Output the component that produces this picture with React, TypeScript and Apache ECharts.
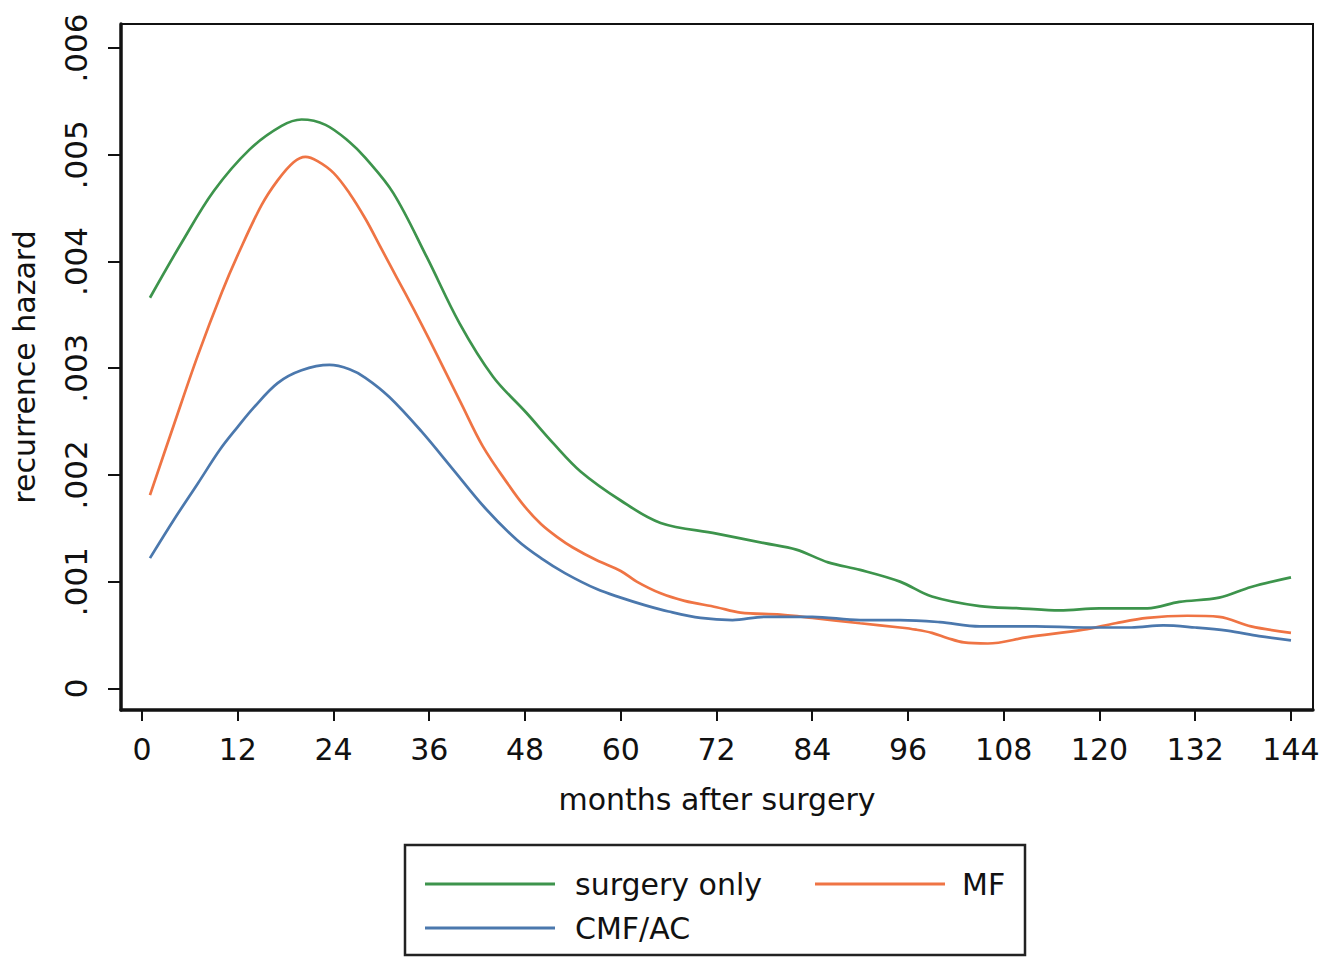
import React, { useEffect, useRef } from "react";
import * as echarts from "echarts";

// months after surgery and recurrence hazard
const surgeryOnlyMonths = [1, 5, 9, 13.5, 17.5, 20, 23, 26, 28, 31.5, 35.7, 39.8, 44, 48.2, 51.5, 55, 60, 65, 72, 78, 82, 86, 90, 95, 99, 105, 110, 115, 120, 126, 130, 135, 139, 144];
const surgeryOnlyHazard = [0.00366, 0.00418, 0.00466, 0.00505, 0.00527, 0.00533, 0.00528, 0.00512, 0.00497, 0.00464, 0.00404, 0.00342, 0.00292, 0.00258, 0.0023, 0.00203, 0.00176, 0.00155, 0.00145, 0.00136, 0.0013, 0.00118, 0.00111, 0.001, 0.00086, 0.00077, 0.00075, 0.00073, 0.00075, 0.00075, 0.00081, 0.00085, 0.00095, 0.00104];

const mfMonths = [1, 4, 7, 10, 12.3, 15, 17, 19, 20.5, 22, 24, 26, 28, 30, 32, 34, 36, 38, 40, 42.7, 46, 48, 50, 52, 54, 57, 60, 62, 65, 68, 72, 75, 80, 84, 90, 95, 97, 99, 101, 103, 106, 111, 118, 122, 126, 131, 135, 139, 144];
const mfHazard = [0.00181, 0.00247, 0.00312, 0.00371, 0.00411, 0.00453, 0.00476, 0.00493, 0.00498, 0.00494, 0.00483, 0.00464, 0.0044, 0.00412, 0.00384, 0.00356, 0.00327, 0.00297, 0.00267, 0.00227, 0.0019, 0.0017, 0.00154, 0.00142, 0.00132, 0.0012, 0.0011, 0.001, 0.00089, 0.00082, 0.00076, 0.00071, 0.00069, 0.00066, 0.00061, 0.00057, 0.00055, 0.00052, 0.00047, 0.00043, 0.00042, 0.00048, 0.00055, 0.00061, 0.00066, 0.00068, 0.00067, 0.00058, 0.00052];

const cmfMonths = [1, 4, 7, 9.8, 12, 14, 17, 20, 23.5, 26, 28, 31, 35, 39, 43, 47, 50, 53, 57, 60, 63, 66, 70, 74, 78, 84, 90, 95, 100, 105, 112, 118, 124, 128, 132, 136, 140, 144];
const cmfHazard = [0.00122, 0.00158, 0.00192, 0.00224, 0.00245, 0.00263, 0.00286, 0.00298, 0.00303, 0.00299, 0.00291, 0.00273, 0.00241, 0.00205, 0.00169, 0.00139, 0.00122, 0.00108, 0.00093, 0.00085, 0.00078, 0.00072, 0.00066, 0.00064, 0.00067, 0.00067, 0.00064, 0.00064, 0.00062, 0.00058, 0.00058, 0.00057, 0.00057, 0.00059, 0.00057, 0.00054, 0.00049, 0.00045];

const xTicks = [0, 12, 24, 36, 48, 60, 72, 84, 96, 108, 120, 132, 144];
const yTicks = [0, 0.001, 0.002, 0.003, 0.004, 0.005, 0.006];
const yTickLabels = ["0", ".001", ".002", ".003", ".004", ".005", ".006"];

const seriesNames = ["surgery only", "MF", "CMF/AC"];
const seriesColors = ["#3d944c", "#ef7444", "#4b78ad"];

const FONT = "DejaVu Sans";

function pairs(xs: number[], ys: number[]) {
  return xs.map((x, i) => [x, ys[i]]);
}

export default function App() {
  const ref = useRef<HTMLDivElement>(null);
  useEffect(() => {
    document.body.style.margin = "0";
    const chart = echarts.init(ref.current!, null, { renderer: "svg" });
    const data = [
      pairs(surgeryOnlyMonths, surgeryOnlyHazard),
      pairs(mfMonths, mfHazard),
      pairs(cmfMonths, cmfHazard),
    ];
    chart.setOption({
      animation: false,
      backgroundColor: "#ffffff",
      grid: {
        left: 121,
        top: 24,
        width: 1192,
        height: 686,
        show: true,
        borderColor: "#111",
        borderWidth: 2,
        containLabel: false,
      },
      xAxis: {
        type: "value",
        min: -2.63,
        max: 146.76,
        splitLine: { show: false },
        axisLine: { show: true, onZero: false, lineStyle: { color: "#111", width: 3.5 } },
        axisTick: { show: true, customValues: xTicks, length: 11, lineStyle: { color: "#111", width: 2 } },
        axisLabel: {
          customValues: xTicks,
          margin: 24,
          color: "#111",
          fontFamily: FONT,
          fontSize: 30,
        },
        name: "months after surgery",
        nameLocation: "middle",
        nameGap: 74,
        nameTextStyle: { color: "#111", fontFamily: FONT, fontSize: 30 },
      },
      yAxis: {
        type: "value",
        min: -0.000203,
        max: 0.006225,
        splitLine: { show: false },
        axisLine: { show: true, onZero: false, lineStyle: { color: "#111", width: 3.5 } },
        axisTick: { show: true, customValues: yTicks, length: 13, lineStyle: { color: "#111", width: 2 } },
        axisLabel: {
          customValues: yTicks,
          rotate: 90,
          margin: 30,
          color: "#111",
          fontFamily: FONT,
          fontSize: 31,
          formatter: (v: number) => {
            let best = 0;
            for (let i = 0; i < yTicks.length; i++) {
              if (Math.abs(yTicks[i] - v) < Math.abs(yTicks[best] - v)) best = i;
            }
            return yTickLabels[best];
          },
        },
        name: "recurrence hazard",
        nameLocation: "middle",
        nameGap: 82,
        nameTextStyle: { color: "#111", fontFamily: FONT, fontSize: 30 },
      },
      legend: [
        {
          data: [seriesNames[0], seriesNames[2]],
          orient: "vertical",
          left: 420,
          top: 864,
          itemWidth: 130,
          itemHeight: 3,
          itemGap: 14,
          icon: "rect",
          textStyle: { color: "#111", fontFamily: FONT, fontSize: 30, padding: [0, 0, 0, 15] },
        },
        {
          data: [seriesNames[1]],
          orient: "vertical",
          left: 810,
          top: 864,
          itemWidth: 130,
          itemHeight: 3,
          icon: "rect",
          textStyle: { color: "#111", fontFamily: FONT, fontSize: 30, padding: [0, 0, 0, 12] },
        },
      ],
      graphic: [
        {
          type: "rect",
          shape: { x: 405, y: 845, width: 620, height: 110 },
          style: { fill: "none", stroke: "#222", lineWidth: 2.5 },
          silent: true,
        },
      ],
      series: data.map((d, i) => ({
        name: seriesNames[i],
        type: "line",
        data: d,
        smooth: 0.35,
        showSymbol: false,
        symbol: "none",
        color: seriesColors[i],
        lineStyle: { color: seriesColors[i], width: 2.7 },
        itemStyle: { color: seriesColors[i] },
      })),
    });
    return () => chart.dispose();
  }, []);
  return <div ref={ref} style={{ position: "absolute", left: 0, top: 0, width: 1342, height: 959 }} />;
}
